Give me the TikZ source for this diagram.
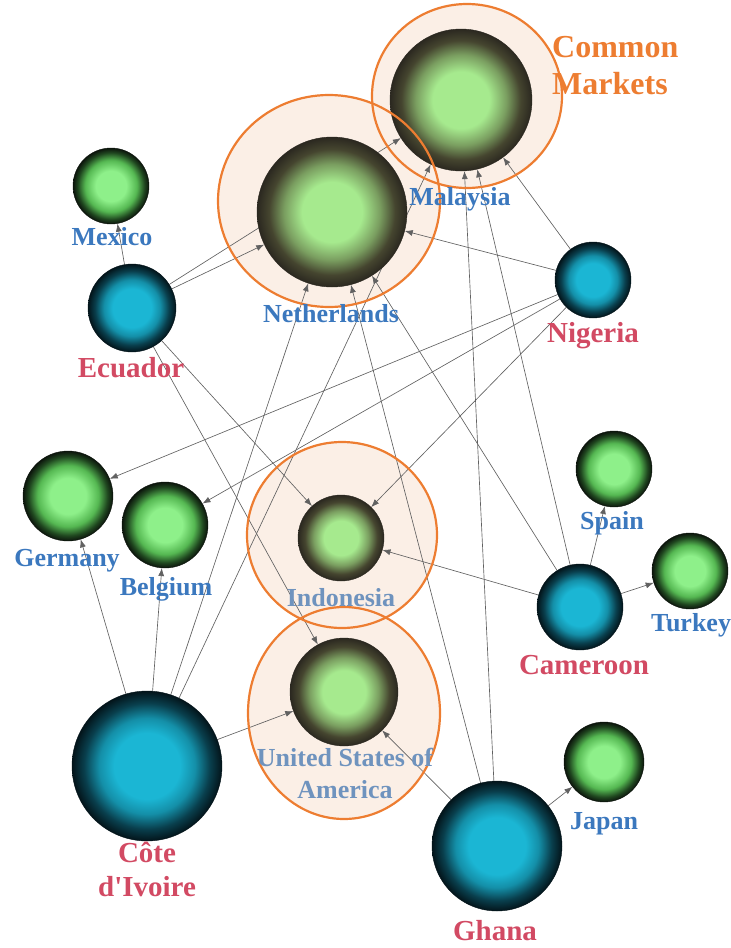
\documentclass[tikz,border=0pt]{standalone}
\usepackage{fontspec}
\setmainfont{Liberation Serif}[Ligatures=TeXOff]
\usetikzlibrary{arrows.meta}

% ball colours
\definecolor{hgin}{HTML}{A6EA8E}
\definecolor{hgmid}{HTML}{7A9E60}
\definecolor{hgdark}{HTML}{45452F}
\definecolor{hgedge}{HTML}{2B2820}
\definecolor{pgin}{HTML}{8EF08A}
\definecolor{pgmid}{HTML}{55B852}
\definecolor{pgdark}{HTML}{1F461F}
\definecolor{pgedge}{HTML}{0C140C}
\definecolor{blin}{HTML}{1BB6D4}
\definecolor{blmid}{HTML}{148FA8}
\definecolor{bldark}{HTML}{093F4D}
\definecolor{bledge}{HTML}{03141A}
% other colours
\definecolor{lblblue}{HTML}{3B78BE}
\definecolor{lblpale}{HTML}{6F93BE}
\definecolor{lblred}{HTML}{D24A63}
\definecolor{ringorange}{HTML}{ED7D31}
\definecolor{ringfill}{HTML}{FBEFE6}
\definecolor{edgegray}{HTML}{616161}

\pgfdeclareradialshading{hlball}{\pgfpointorigin}{color(0bp)=(hgin); color(10bp)=(hgin); color(16bp)=(hgmid); color(21bp)=(hgdark); color(25bp)=(hgedge); color(50bp)=(hgedge)}
\pgfdeclareradialshading{grball}{\pgfpointorigin}{color(0bp)=(pgin); color(10bp)=(pgin); color(17bp)=(pgmid); color(22bp)=(pgdark); color(25bp)=(pgedge); color(50bp)=(pgedge)}
\pgfdeclareradialshading{blball}{\pgfpointorigin}{color(0bp)=(blin); color(11bp)=(blin); color(16bp)=(blmid); color(21bp)=(bldark); color(25bp)=(bledge); color(50bp)=(bledge)}

\pgfdeclarelayer{rings}
\pgfdeclarelayer{links}
\pgfdeclarelayer{front}
\pgfsetlayers{rings,links,main,front}

\tikzset{
  hlnode/.style={circle, inner sep=0pt, minimum size=#1, shading=hlball, draw=hgedge, line width=0.4pt},
  grnode/.style={circle, inner sep=0pt, minimum size=#1, shading=grball, draw=pgedge, line width=0.4pt},
  blnode/.style={circle, inner sep=0pt, minimum size=#1, shading=blball, draw=bledge, line width=0.4pt},
  link/.style={draw=edgegray, line width=0.65pt, -{Latex[length=8pt,width=6pt]}},
  ringfillst/.style={fill=ringfill, draw=none},
  ringline/.style={draw=ringorange, line width=2.2pt},
  importer/.style={text=lblblue, inner sep=0pt, font=\bfseries\fontsize{26}{28}\selectfont, text height=17pt, text depth=0pt},
  importerpale/.style={importer, text=lblpale},
  exporter/.style={text=lblred, inner sep=0pt, font=\bfseries\fontsize{29}{33}\selectfont, text height=19pt, text depth=0pt},
  cmtext/.style={text=ringorange, inner sep=0pt, anchor=base west, font=\bfseries\fontsize{32}{36}\selectfont},
}

\begin{document}
\begin{tikzpicture}[x=1pt, y=-1pt]
\useasboundingbox (0,0) rectangle (731,948);

% country balls
\node[hlnode=142pt] (mal) at (461,100) {};
\node[hlnode=150pt] (ned) at (332,212) {};
\node[hlnode=86pt]  (ind) at (341,538) {};
\node[hlnode=108pt] (usa) at (344,692) {};
\node[grnode=76pt]  (mex) at (111,186) {};
\node[grnode=90pt]  (ger) at (68,496) {};
\node[grnode=86pt]  (bel) at (165,525) {};
\node[grnode=76pt]  (spa) at (614,469) {};
\node[grnode=76pt]  (tur) at (690,571) {};
\node[grnode=80pt]  (jap) at (604,762) {};
\node[blnode=88pt]  (ecu) at (132,308) {};
\node[blnode=76pt]  (nig) at (593,280) {};
\node[blnode=86pt]  (cam) at (580,607) {};
\node[blnode=150pt] (civ) at (147,766) {};
\node[blnode=130pt] (gha) at (497,846) {};

% common-market rings
\begin{pgfonlayer}{rings}
\path[ringfillst] (467,96) ellipse [x radius=95, y radius=92];
\path[ringfillst] (329,201) ellipse [x radius=111, y radius=106];
\path[ringfillst] (342,535) ellipse [x radius=95, y radius=93];
\path[ringfillst] (344,713) ellipse [x radius=96, y radius=106];
\end{pgfonlayer}
\begin{pgfonlayer}{front}
\draw[ringline] (467,96) ellipse [x radius=95, y radius=92];
\draw[ringline] (329,201) ellipse [x radius=111, y radius=106];
\draw[ringline] (342,535) ellipse [x radius=95, y radius=93];
\draw[ringline] (344,713) ellipse [x radius=96, y radius=106];
\end{pgfonlayer}

% trade links
\begin{pgfonlayer}{links}
\draw[link] (ecu) -- (mex);
\draw[link] (ecu) -- (ned);
\draw[link] (ecu) -- (mal);
\draw[link] (ecu) -- (ind);
\draw[link] (ecu) -- (usa);
\draw[link] (nig) -- (mal);
\draw[link] (nig) -- (ned);
\draw[link] (nig) -- (ger);
\draw[link] (nig) -- (bel);
\draw[link] (nig) -- (ind);
\draw[link] (civ) -- (ger);
\draw[link] (civ) -- (bel);
\draw[link] (civ) -- (ned);
\draw[link] (civ) -- (mal);
\draw[link] (civ) -- (usa);
\draw[link] (gha) -- (ned);
\draw[link] (gha) -- (mal);
\draw[link] (gha) -- (usa);
\draw[link] (gha) -- (jap);
\draw[link] (cam) -- (ned);
\draw[link] (cam) -- (mal);
\draw[link] (cam) -- (ind);
\draw[link] (cam) -- (spa);
\draw[link] (cam) -- (tur);
\end{pgfonlayer}

% country names
\begin{pgfonlayer}{front}
\node[importer] (mal-l) at (460,197) {Malaysia};
\node[importer] (ned-l) at (331,314) {Netherlands};
\node[importer] (mex-l) at (112,237) {Mexico};
\node[importer] (ger-l) at (67,558) {Germany};
\node[importer] (bel-l) at (166,587) {Belgium};
\node[importerpale] (ind-l) at (341,598) {Indonesia};
\node[importer] (spa-l) at (612,521) {Spain};
\node[importer] (tur-l) at (691,623) {Turkey};
\node[importer] (jap-l) at (604,821) {Japan};
\node[importerpale] (usa-l1) at (345,758) {United States of};
\node[importerpale] (usa-l2) at (345,790) {America};
\node[exporter] (ecu-l) at (131,368) {Ecuador};
\node[exporter] (nig-l) at (593,333) {Nigeria};
\node[exporter] (cam-l) at (584,665) {Cameroon};
\node[exporter] (civ-l1) at (147,853) {Côte};
\node[exporter] (civ-l2) at (147,887) {d'Ivoire};
\node[exporter] (gha-l) at (495,931) {Ghana};
\node[cmtext] (cm-1) at (552,57) {Common};
\node[cmtext] (cm-2) at (552,94) {Markets};
\end{pgfonlayer}
\end{tikzpicture}
\end{document}
